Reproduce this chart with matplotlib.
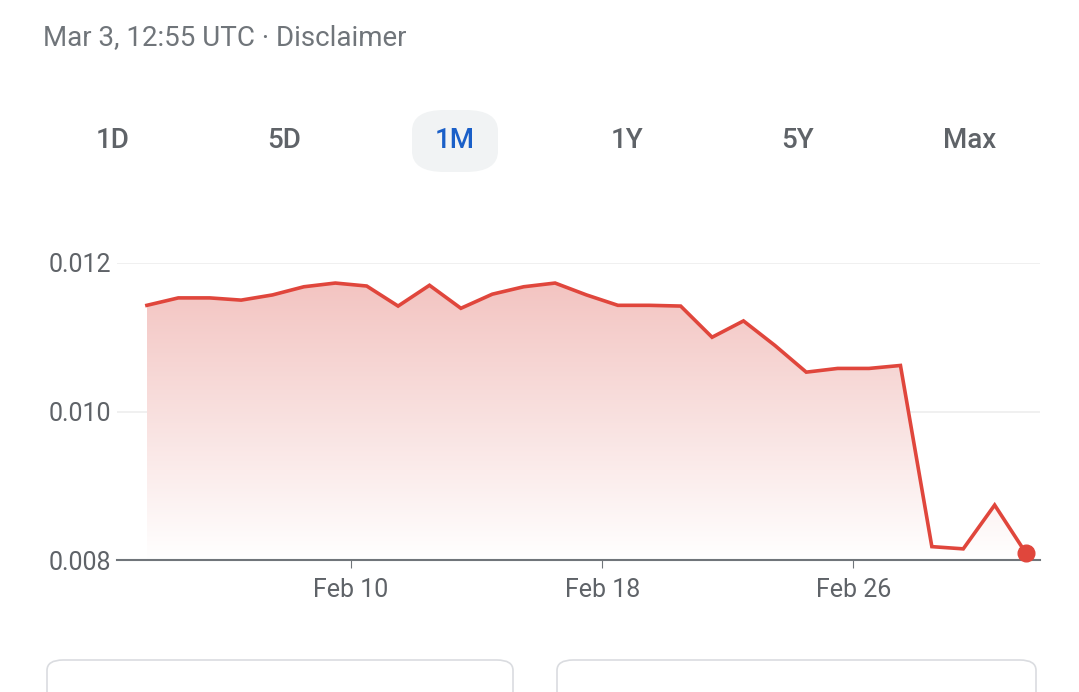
import matplotlib
matplotlib.use("Agg")
import matplotlib.pyplot as plt
import numpy as np
from matplotlib.patches import FancyBboxPatch, Polygon
from matplotlib.colors import LinearSegmentedColormap

plt.rcParams['font.family'] = ['Roboto', 'DejaVu Sans']

start_day = 3.5
values = [0.01143,0.01153,0.01153,0.01150,0.01157,0.01168,0.01173,0.01169,0.01142,0.01170,
          0.01139,0.01158,0.01168,0.01173,0.01157,0.01143,0.01143,0.01142,0.01100,0.01122,
          0.01089,0.01053,0.01058,0.01058,0.01062,0.00818,0.00815,0.00874,0.00809]
xticks = [10, 18, 26]
xticklabels = ["Feb 10", "Feb 18", "Feb 26"]
yticks = [0.008, 0.010, 0.012]
yticklabels = ["0.008", "0.010", "0.012"]
ranges = ["1D", "5D", "1M", "1Y", "5Y", "Max"]

x = start_day + np.arange(len(values))
y = np.array(values)
W, H = 1079, 692
fig = plt.figure(figsize=(W/100, H/100), dpi=100)
fig.patch.set_facecolor("white")
grey = "#5f6368"
red = "#e0463c"

fig.text(43/W, 1-38/H, "Mar 3, 12:55 UTC · Disclaimer", fontsize=20, color="#70757a", va="center", ha="left")
bx = [113, 284, 455, 627, 798, 970]
for lab, px in zip(ranges, bx):
    if lab == "1M":
        fig.patches.append(FancyBboxPatch(((px-43)/W, 1-172/H), 86/W, 62/H,
            boxstyle="round,pad=0,rounding_size=0.03", transform=fig.transFigure,
            facecolor="#f1f3f4", edgecolor="none"))
        col = "#1a5fc8"
    else:
        col = grey
    fig.text(px/W, 1-141/H, lab, fontsize=20, color=col, ha="center", va="center", fontweight="medium")

for x0, x1 in [(47, 513), (557, 1036)]:
    fig.patches.append(FancyBboxPatch((x0/W, 1-720/H), (x1-x0)/W, 60/H,
        boxstyle="round,pad=0,rounding_size=0.015", transform=fig.transFigure,
        facecolor="white", edgecolor="#dadce0", lw=1.2))

ax = fig.add_axes([117/W, 1-560/H, (1040-117)/W, (560-263)/H])
ax.set_xlim(start_day - 30/31.5, x[-1] + 14/31.5)
ax.set_ylim(0.008, 0.012)
for s in ["top", "right", "left"]:
    ax.spines[s].set_visible(False)
ax.spines["bottom"].set_color("#70757a")
ax.spines["bottom"].set_linewidth(1.5)
ax.set_yticks(yticks)
ax.set_yticklabels(yticklabels)
ax.set_xticks(xticks)
ax.set_xticklabels(xticklabels)
ax.tick_params(axis="y", length=0, labelsize=18, labelcolor=grey, pad=4)
ax.tick_params(axis="x", length=6, color="#70757a", labelsize=18, labelcolor=grey, pad=7)
for t in yticks[1:]:
    ax.axhline(t, color="#eeeeee", lw=1.2, zorder=0)

grad = np.linspace(0, 1, 256).reshape(-1, 1)
cmap = LinearSegmentedColormap.from_list("g", ["#ffffff", "#f2c0bd"])
im = ax.imshow(grad, cmap=cmap, aspect="auto", origin="lower",
               extent=[x[0], x[-1], 0.008, 0.012], zorder=1)
poly = Polygon(np.column_stack([np.r_[x[0], x, x[-1]], np.r_[0.008, y, 0.008]]),
               closed=True, transform=ax.transData, facecolor="none", edgecolor="none")
ax.add_patch(poly)
im.set_clip_path(poly)
ax.plot(x, y, color=red, lw=2.6, zorder=3, solid_joinstyle="miter")
ax.plot([x[-1]], [y[-1]], "o", color=red, ms=12, zorder=4, clip_on=False)
fig.savefig("out.png", dpi=100, facecolor="white")
